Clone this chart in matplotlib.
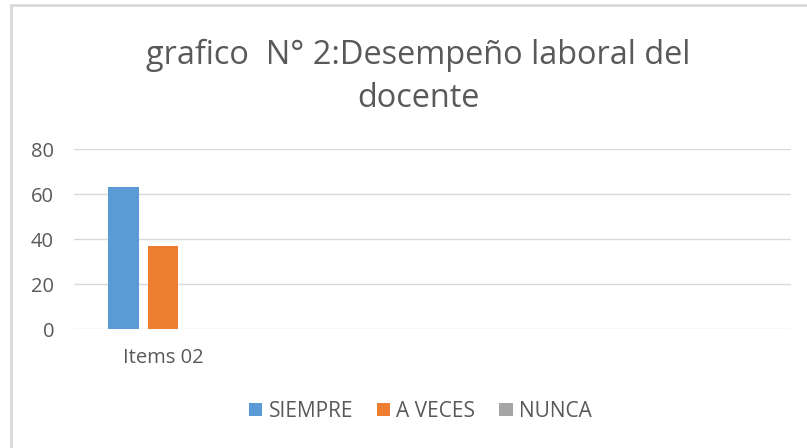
import numpy as np
import matplotlib.pyplot as plt
from matplotlib.patches import Rectangle

# --- data ---
categories = ["Items 02", "", "", ""]
series_names = ["SIEMPRE", "A VECES", "NUNCA"]
siempre = [63, 0, 0, 0]
a_veces = [37, 0, 0, 0]
nunca = [0, 0, 0, 0]
y_ticks = [0, 20, 40, 60, 80]

colors = ["#5B9BD5", "#ED7D31", "#A5A5A5"]
TXT = "#595959"
plt.rcParams['font.family'] = ['Open Sans', 'DejaVu Sans']

fig = plt.figure(figsize=(8.07, 4.48), dpi=100)
# chart-area border (left and top visible)
fig.patches.append(Rectangle((10.5/807, -0.1), 1.2, (448-5.5)/448 + 0.1,
                             transform=fig.transFigure, fill=False,
                             edgecolor="#D9D9D9", lw=2))

ax = fig.add_axes([73.5/807, (448-329)/448, (791-73.5)/807, (329-149.3)/448])

x = np.arange(len(categories))
pitch = 0.22
width = 0.17
for i, (vals, c, name) in enumerate(zip([siempre, a_veces, nunca], colors, series_names)):
    ax.bar(x + (i - 1) * pitch, vals, width, color=c, label=name)

ax.set_xlim(-0.5, len(categories) - 0.5)
ax.set_ylim(0, 80)
ax.set_yticks(y_ticks)
ax.set_xticks(x)
ax.set_xticklabels(categories)
ax.tick_params(length=0, colors=TXT, labelsize=14.5)
ax.tick_params(axis='y', pad=14)
ax.tick_params(axis='x', pad=14)
ax.grid(axis='y', color="#D9D9D9", lw=1)
ax.set_axisbelow(True)
for s in ax.spines.values():
    s.set_visible(False)

fig.text(0.518, 0.828, "grafico  N° 2:Desempeño laboral del\ndocente",
         ha='center', va='center', fontsize=23.4, color=TXT, linespacing=1.42)

leg = fig.legend(loc='center', bbox_to_anchor=(0.521, 0.082), ncol=3,
                 frameon=False, fontsize=15, handlelength=0.63, handleheight=0.63,
                 handletextpad=0.3, columnspacing=1.15)
for t in leg.get_texts():
    t.set_color(TXT)

fig.savefig("out.png", dpi=100)
